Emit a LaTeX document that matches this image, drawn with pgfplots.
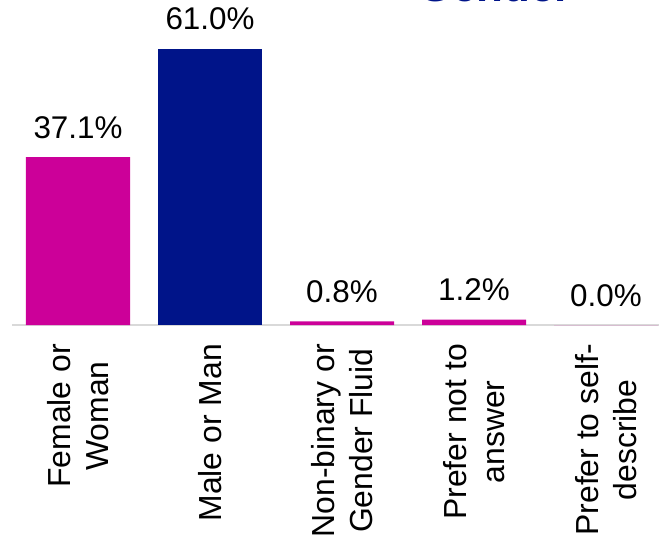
\documentclass[border=0pt]{standalone}
\usepackage{pgfplots}
\pgfplotsset{compat=1.18}
\usepackage{fontspec}
\setmainfont{Liberation Sans}
\definecolor{magbar}{RGB}{204,0,153}
\definecolor{navybar}{RGB}{0,20,137}
\definecolor{axisgray}{RGB}{217,217,217}
\begin{document}
\begin{tikzpicture}
% the reference is cropped: the title and the right end run past its edges
\useasboundingbox (-12bp,-212bp) rectangle (647bp,325bp);
\begin{pgfinterruptboundingbox}
\begin{axis}[
  at={(0,0)}, anchor=south west,
  scale only axis, width=660bp, height=325bp,
  xmin=-0.5, xmax=4.5, ymin=0, ymax=71.8,
  axis x line*=bottom, axis y line=none,
  x axis line style={color=axisgray, line width=1.5bp},
  xtick={0,...,4},
  xticklabels={Female or\\Woman, Male or Man, Non-binary or\\Gender Fluid, Prefer not to\\answer, Prefer to self-\\describe},
  major tick length=0pt,
  xticklabel shift=19bp,
  xticklabel style={rotate=90, anchor=east, align=center, inner sep=0pt, font=\fontsize{32}{38}\selectfont},
  ybar, bar width=104bp, bar shift=0pt,
  point meta=explicit symbolic,
  nodes near coords,
  nodes near coords style={anchor=base, yshift=19bp, inner sep=0pt, font=\fontsize{31.5}{36}\selectfont, text=black},
  title={Gender},
  title style={at={(axis description cs:0.732,0.978)}, anchor=base, font=\fontsize{44}{50}\selectfont\bfseries, text=navybar, inner sep=0pt},
]
% female, non-binary, prefer not, self-describe
\addplot[fill=magbar, draw=none] coordinates {
  (0,37.1) [37.1\%]
  (2,0.8) [0.8\%]
  (3,1.2) [1.2\%]
  (4,0.0) [0.0\%]
};
% male
\addplot[fill=navybar, draw=none] coordinates {
  (1,61.0) [61.0\%]
};
\end{axis}
\end{pgfinterruptboundingbox}
\end{tikzpicture}
\end{document}
